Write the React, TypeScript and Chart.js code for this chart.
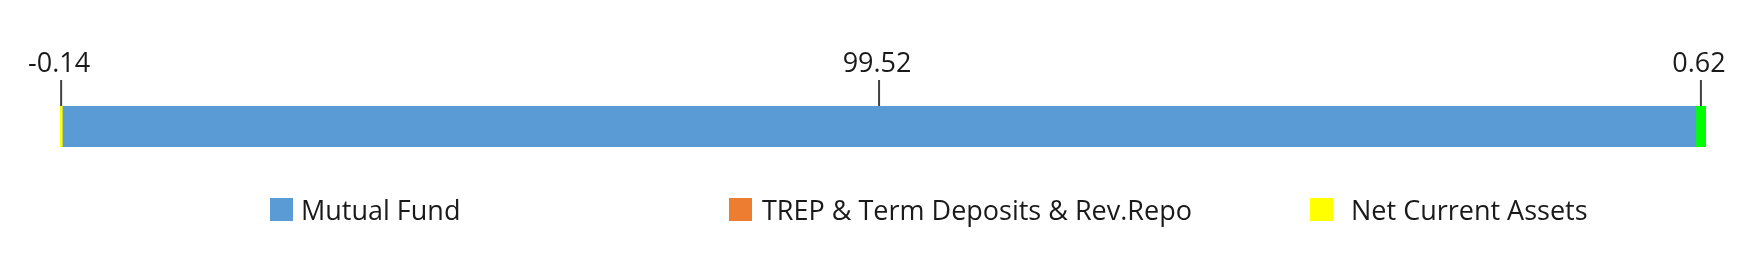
import React, { useEffect, useRef } from "react";
import { Chart, registerables } from "chart.js";

Chart.register(...registerables);

const categories = ["Portfolio"];
const seriesNames = ["Net Current Assets", "Mutual Fund", "TREP & Term Deposits & Rev.Repo"];
const seriesValues = [-0.14, 99.52, 0.62];
const barColors = ["#FFFF00", "#5B9BD5", "#00FF00"];
const legendNames = ["Mutual Fund", "TREP & Term Deposits & Rev.Repo", "Net Current Assets"];
const legendColors = ["#5B9BD5", "#ED7D31", "#FFFF00"];
const legendBoxX = [270, 729, 1310];
const legendTextX = [301, 762, 1351];

const FONT = '27px "Open Sans", "Noto Sans", sans-serif';

const labelPlugin = {
  id: "segLabels",
  afterDatasetsDraw(chart: any) {
    const ctx = chart.ctx;
    ctx.save();
    chart.data.datasets.forEach((ds: any, i: number) => {
      const meta = chart.getDatasetMeta(i);
      const el = meta.data[0];
      if (!el) return;
      const { x, base, y, height } = el.getProps(["x", "base", "y", "height"], true);
      const cx = (x + base) / 2;
      const top = y - height / 2;
      ctx.strokeStyle = "#404040";
      ctx.lineWidth = 2;
      ctx.beginPath();
      ctx.moveTo(cx, 80);
      ctx.lineTo(cx, top);
      ctx.stroke();
      ctx.fillStyle = "#1a1a1a";
      ctx.font = FONT;
      ctx.textAlign = "center";
      ctx.textBaseline = "alphabetic";
      ctx.fillText(Number(ds.data[0]).toFixed(2), cx - 2, 72);
    });
    // legend
    legendNames.forEach((name, i) => {
      ctx.fillStyle = legendColors[i];
      ctx.fillRect(legendBoxX[i], 198, 23, 23);
      ctx.fillStyle = "#1a1a1a";
      ctx.font = FONT;
      ctx.textAlign = "left";
      ctx.textBaseline = "alphabetic";
      ctx.fillText(name, legendTextX[i], 220);
    });
    ctx.restore();
  },
};

export default function App() {
  const ref = useRef<HTMLCanvasElement>(null);
  useEffect(() => {
    if (!ref.current) return;
    const neg = seriesValues.filter((v) => v < 0).reduce((a, b) => a + b, 0);
    const pos = seriesValues.filter((v) => v > 0).reduce((a, b) => a + b, 0);
    const chart = new Chart(ref.current, {
      type: "bar",
      data: {
        labels: categories,
        datasets: seriesNames.map((n, i) => ({
          label: n,
          data: [seriesValues[i]],
          backgroundColor: barColors[i],
          borderWidth: 0,
          barPercentage: 1,
          categoryPercentage: 1,
        })),
      },
      options: {
        indexAxis: "y",
        animation: false,
        responsive: true,
        maintainAspectRatio: false,
        layout: { padding: { left: 60, right: 45, top: 106, bottom: 131 } },
        scales: {
          x: { stacked: true, display: false, min: neg, max: pos },
          y: { stacked: true, display: false },
        },
        plugins: { legend: { display: false }, tooltip: { enabled: false } },
      },
      plugins: [labelPlugin],
    });
    return () => chart.destroy();
  }, []);
  return (
    <div style={{ position: "fixed", left: 0, top: 0, width: 1751, height: 278, background: "#fff" }}>
      <canvas ref={ref} />
    </div>
  );
}
